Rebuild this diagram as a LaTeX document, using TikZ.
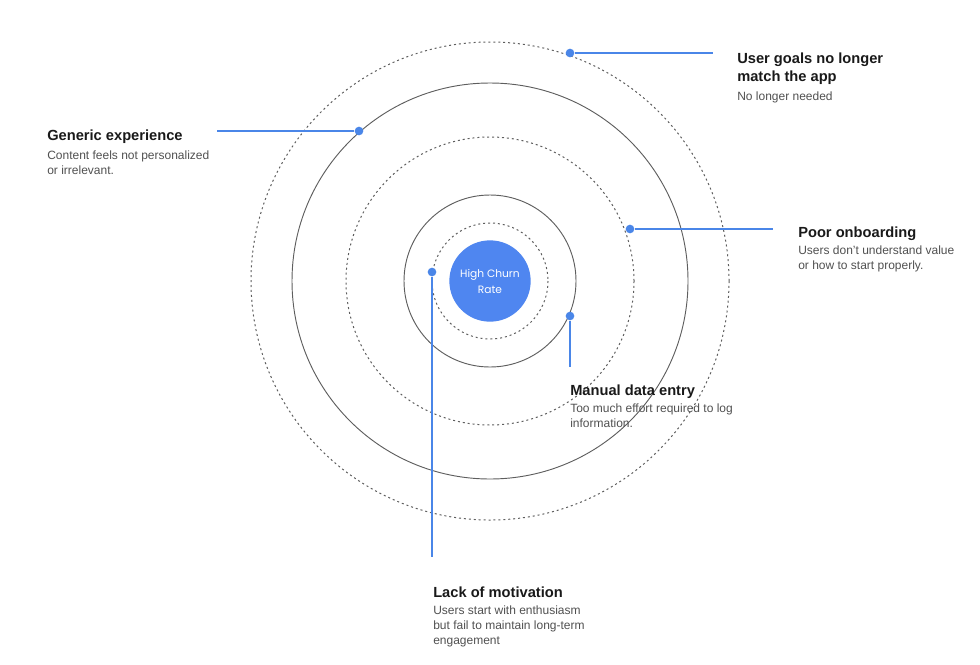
\documentclass[tikz,border=0pt]{standalone}
\usepackage{fontspec}
\setmainfont{Liberation Sans}
\newfontfamily\poppins{Poppins}
\usepackage{xcolor}
\usetikzlibrary{positioning}

\definecolor{churnblue}{HTML}{4F86F0}
\definecolor{linkblue}{HTML}{4A86E8}
\definecolor{ringgray}{HTML}{5E5E5E}
\definecolor{descgray}{HTML}{505050}

\begin{document}
\begin{tikzpicture}[
  x=0.75pt, y=-0.75pt,
  every node/.style={font=\rmfamily},
  core/.style={circle, fill=churnblue, minimum size=61pt, inner sep=0pt, align=center,
    text=white, font=\poppins\fontsize{8}{12}\selectfont},
  ring/.style={draw=ringgray, line width=0.7pt},
  dotring/.style={draw=ringgray, line width=0.75pt, dash pattern=on 1.5pt off 2.2pt},
  dot/.style={circle, fill=linkblue, inner sep=0pt, minimum size=6.5pt},
  link/.style={draw=linkblue, line width=1.1pt},
  title/.style={anchor=base west, inner sep=0pt, text=black!90, font=\fontsize{11}{13.5}\selectfont\bfseries},
  desc/.style={anchor=north west, inner sep=0pt, align=left, text=descgray, font=\fontsize{9}{11}\selectfont},
]

\useasboundingbox (0,0) rectangle (980,664);

% centre and rings
\draw[dotring] (490,281) circle (239);
\draw[ring] (490,281) circle (198);
\draw[dotring] (490,281) circle (144);
\draw[ring] (490,281) circle (86);
\draw[dotring] (490,281) circle (58);
\node[core] (churn) at (490,281) {High Churn\\Rate};

% dots on the rings
\node[dot] (goalsdot) at (570,53) {};
\node[dot] (genericdot) at (359,131) {};
\node[dot] (onboarddot) at (630,229) {};
\node[dot] (manualdot) at (570,316) {};
\node[dot] (motivdot) at (432,272) {};

\coordinate (goalsend) at (713,53);
\coordinate (genericend) at (217,131);
\coordinate (onboardend) at (773,229);
\coordinate (manualend) at (570,367);
\coordinate (motivend) at (432,557);

\draw[link] (goalsdot) -- (goalsend);
\draw[link] (genericdot) -- (genericend);
\draw[link] (onboarddot) -- (onboardend);
\draw[link] (manualdot) -- (manualend);
\draw[link] (motivdot) -- (motivend);

% labels
\node[title] (goals) at (737,63) {User goals no longer};
\node[title] (goals2) at (737,81) {match the app};
\node[desc] (goalsdesc) at (737,92) {No longer needed};

\node[title] (generic) at (47,140) {Generic experience};
\node[desc] (genericdesc) at (47,151) {Content feels not personalized\\or irrelevant.};

\node[title] (onboard) at (798,237) {Poor onboarding};
\node[desc] (onboarddesc) at (798,246) {Users don’t understand value\\or how to start properly.};

\node[title] (manual) at (570,395) {Manual data entry};
\node[desc] (manualdesc) at (570,404) {Too much effort required to log\\information.};

\node[title] (motiv) at (433,597) {Lack of motivation};
\node[desc] (motivdesc) at (433,606) {Users start with enthusiasm\\but fail to maintain long-term\\engagement};

\end{tikzpicture}
\end{document}
